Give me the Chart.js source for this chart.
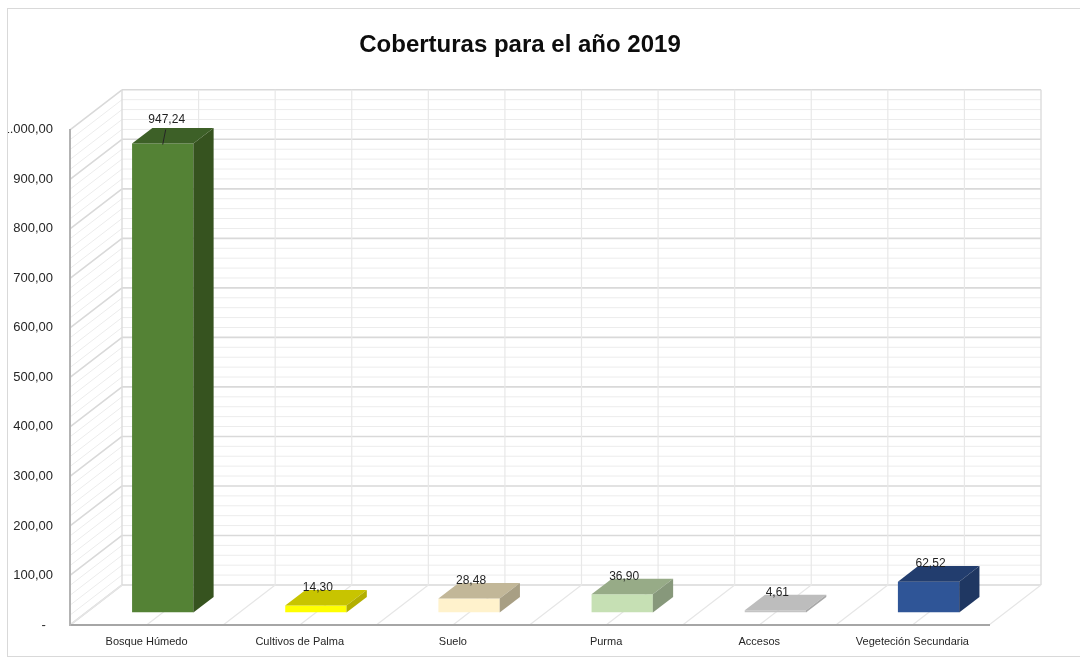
<!DOCTYPE html>
<html lang="es">
<head>
<meta charset="UTF-8">
<title>Coberturas 2019</title>
<script src="https://cdn.jsdelivr.net/npm/chart.js@4.4.1/dist/chart.umd.min.js"></script>
<style>
  html, body { margin: 0; padding: 0; background: #ffffff; overflow: hidden; }
  .marco {
    position: absolute; left: 7px; top: 8px;
    width: 1072px; height: 647px;
    border: 1px solid #d9d9d9;
    overflow: hidden;
  }
</style>
</head>
<body>

<div class="marco">
  <canvas id="graficoCoberturas"></canvas>
</div>

<script>
// datos de coberturas (hectáreas) para 2019
const categorias = ['Bosque Húmedo', 'Cultivos de Palma', 'Suelo', 'Purma', 'Accesos', 'Vegeteción Secundaria'];
const valores = [947.24, 14.30, 28.48, 36.90, 4.61, 62.52];
const ejeMin = 0;
const ejeMax = 1000;
const ejePaso = 100;
const ejePasoMenor = 20;

// colores de cada barra: cara frontal, cara superior y cara lateral
const colorFrente = ['#548235', '#ffff00', '#fff2cc', '#c6e0b4', '#c4c4c4', '#2f5597'];
const colorArriba = ['#3d6027', '#c8c400', '#c2b798', '#97ab87', '#bdbdbd', '#223d6e'];
const colorLado = ['#36531f', '#b3af00', '#a89f84', '#87987b', '#a8a8a8', '#1f3762'];

// profundidad de la vista 3D (desplazamiento del fondo respecto al frente)
const prof = { dx: 52, dy: -40 };
const barraFrente = 0.31;
const barraFondo = 0.70;
// etiqueta movida hacia arriba con línea guía
const etiquetaSubida = { 0: 6 };

const fuente = '"Liberation Sans", Arial, sans-serif';

function formatoNumero(v) {
  if (v === 0) return '-  ';
  const partes = v.toFixed(2).split('.');
  partes[0] = partes[0].replace(/\B(?=(\d{3})+(?!\d))/g, '.');
  return partes.join(',');
}

function linea(ctx, x1, y1, x2, y2) {
  ctx.beginPath();
  ctx.moveTo(x1, y1);
  ctx.lineTo(x2, y2);
  ctx.stroke();
}

function poligono(ctx, pts, color) {
  ctx.beginPath();
  ctx.moveTo(pts[0][0], pts[0][1]);
  for (let i = 1; i < pts.length; i++) ctx.lineTo(pts[i][0], pts[i][1]);
  ctx.closePath();
  ctx.fillStyle = color;
  ctx.fill();
}

// paredes y piso de la caja 3D
const paredes3d = {
  id: 'paredes3d',
  beforeDraw(chart) {
    const { ctx, chartArea: a, scales: { y } } = chart;
    const mitad = (a.right - a.left) / (categorias.length * 2);
    ctx.save();

    // líneas horizontales del fondo y diagonales de la pared izquierda
    for (let v = ejeMin; v <= ejeMax; v += ejePasoMenor) {
      const py = y.getPixelForValue(v);
      const mayor = v % ejePaso === 0;
      ctx.strokeStyle = mayor ? '#d9d9d9' : '#ececec';
      ctx.lineWidth = mayor ? 1.6 : 1;
      linea(ctx, a.left, py, a.left + prof.dx, py + prof.dy);
      linea(ctx, a.left + prof.dx, py + prof.dy, a.right + prof.dx, py + prof.dy);
    }

    // verticales del fondo y diagonales del piso
    const yArriba = y.getPixelForValue(ejeMax) + prof.dy;
    const yAbajo = y.getPixelForValue(ejeMin) + prof.dy;
    for (let k = 0; k <= categorias.length * 2; k++) {
      const px = a.left + k * mitad;
      const borde = k === 0 || k === categorias.length * 2;
      ctx.strokeStyle = borde ? '#dcdcdc' : '#e8e8e8';
      ctx.lineWidth = borde ? 1.4 : 1.2;
      linea(ctx, px + prof.dx, yArriba, px + prof.dx, yAbajo);
      ctx.strokeStyle = '#e6e6e6';
      ctx.lineWidth = 1.2;
      linea(ctx, px, a.bottom, px + prof.dx, a.bottom + prof.dy);
    }
    ctx.restore();
  },
  beforeDatasetsDraw(chart) {
    // las barras se dibujan a media profundidad
    chart.ctx.save();
    chart.ctx.translate(prof.dx * barraFrente, prof.dy * barraFrente);
  },
  afterDatasetsDraw(chart) {
    const ctx = chart.ctx;
    ctx.restore();

    const fx = prof.dx * barraFrente, fy = prof.dy * barraFrente;
    const bx = prof.dx * (barraFondo - barraFrente), by = prof.dy * (barraFondo - barraFrente);
    const meta = chart.getDatasetMeta(0);

    ctx.save();
    meta.data.forEach((barra, i) => {
      const p = barra.getProps(['x', 'y', 'base', 'width'], true);
      const l = p.x - p.width / 2 + fx, r = p.x + p.width / 2 + fx;
      const t = p.y + fy, b = p.base + fy;

      poligono(ctx, [[l, t], [r, t], [r + bx, t + by], [l + bx, t + by]], colorArriba[i]);
      poligono(ctx, [[r, t], [r + bx, t + by], [r + bx, b + by], [r, b]], colorLado[i]);

      // etiqueta con el valor
      const sube = etiquetaSubida[i] || 0;
      const tx = p.x + fx + 2 + (sube ? 2 : 0);
      const ty = t - 18 - sube;
      ctx.font = '12px ' + fuente;
      ctx.fillStyle = '#1f1f1f';
      ctx.textAlign = 'center';
      ctx.textBaseline = 'middle';
      ctx.fillText(formatoNumero(valores[i]), tx, ty);
      if (sube) {
        ctx.strokeStyle = '#262626';
        ctx.lineWidth = 1;
        linea(ctx, p.x + fx, t + 1, tx - 1, ty + 10);
      }
    });
    ctx.restore();
  }
};

new Chart(document.getElementById('graficoCoberturas'), {
  type: 'bar',
  data: {
    labels: categorias,
    datasets: [{
      label: 'Coberturas',
      data: valores,
      backgroundColor: colorFrente,
      borderWidth: 0,
      barPercentage: 0.4,
      categoryPercentage: 1
    }]
  },
  options: {
    responsive: true,
    maintainAspectRatio: false,
    animation: false,
    layout: { padding: { left: 0, right: 48, top: 0, bottom: 0 } },
    plugins: {
      legend: { display: false },
      tooltip: { enabled: false },
      title: {
        display: true,
        text: 'Coberturas para el año 2019',
        color: '#0d0d0d',
        font: { family: fuente, size: 24, weight: 'bold' },
        padding: { top: 22, bottom: 70 }
      }
    },
    scales: {
      x: {
        grid: { display: false },
        border: { display: true, color: '#a6a6a6', width: 2 },
        ticks: {
          color: '#262626',
          font: { family: fuente, size: 11 },
          padding: 2,
          autoSkip: false,
          maxRotation: 0
        },
        afterFit(scale) { scale.height = 31; }
      },
      y: {
        min: ejeMin,
        max: ejeMax,
        grid: { display: false },
        border: { display: true, color: '#b3b3b3', width: 2 },
        ticks: {
          stepSize: ejePaso,
          color: '#262626',
          font: { family: fuente, size: 13 },
          padding: 9,
          callback: (v) => formatoNumero(v)
        },
        afterFit(scale) { scale.width = 62; }
      },
      // espacio libre a la derecha, sin marcas
      margenDerecho: {
        type: 'linear',
        position: 'right',
        grid: { display: false },
        border: { display: false },
        ticks: { display: false },
        afterFit(scale) { scale.width = 43; }
      }
    }
  },
  plugins: [paredes3d]
});
</script>
</body>
</html>
